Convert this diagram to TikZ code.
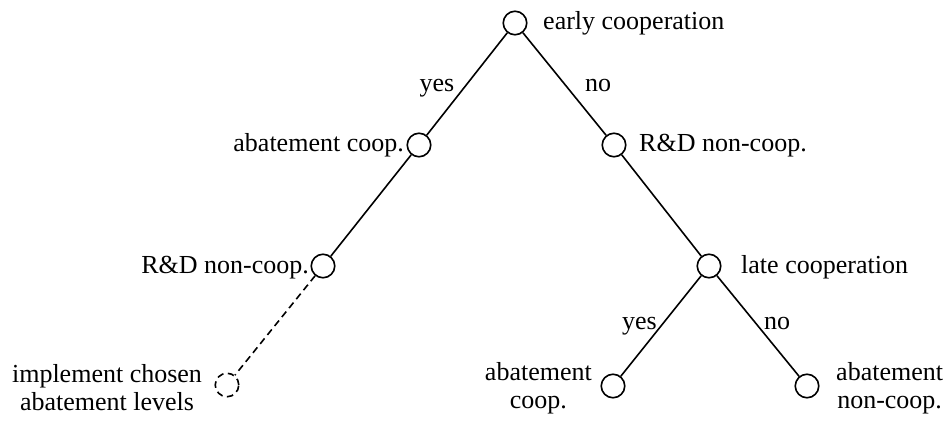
\documentclass[tikz,border=0pt]{standalone}
\usepackage{fontspec}
\setmainfont{Liberation Serif}
\begin{document}
\begin{tikzpicture}[x=1pt,y=-1pt,
  st/.style={circle,draw,line width=1.6pt,minimum size=23.5pt,inner sep=0pt},
  dst/.style={st,dash pattern=on 6.5pt off 4.5pt},
  lab/.style={inner sep=0pt,font=\fontsize{26}{28}\selectfont},
  edge/.style={line width=1.6pt},
  dedge/.style={edge,dash pattern=on 7pt off 4.5pt}]
\useasboundingbox (0,0) rectangle (950,422);
% states
\node[st] (r) at (515,23) {};
\node[st] (a) at (419,145) {};
\node[st] (b) at (614,145) {};
\node[st] (c) at (323,266) {};
\node[st] (d) at (709,266) {};
\node[dst] (e) at (227,385) {};
\node[st] (f) at (613,386) {};
\node[st] (g) at (807,386) {};
% connectors
\draw[edge] (r) -- (a);
\draw[edge] (r) -- (b);
\draw[edge] (a) -- (c);
\draw[dedge] (c) -- (e);
\draw[edge] (b) -- (d);
\draw[edge] (d) -- (f);
\draw[edge] (d) -- (g);
% state labels
\node[lab,anchor=base west] (tr) at (543,30) {early cooperation};
\node[lab,anchor=base east] (ta) at (404,152) {abatement coop.};
\node[lab,anchor=base west] (tb) at (639,152) {R\&D non-coop.};
\node[lab,anchor=base east] (tc) at (309,273) {R\&D non-coop.};
\node[lab,anchor=base west] (td) at (741,273) {late cooperation};
\node[lab,align=center,anchor=center] (te) at (107,388) {implement chosen\\abatement levels};
\node[lab,align=center,anchor=east] (tf) at (592,388) {abatement\\coop.};
\node[lab,align=center,anchor=west] (tg) at (836,388) {abatement\\non-coop.};
% edge labels
\node[lab,anchor=base] (y1) at (437,92) {yes};
\node[lab,anchor=base] (n1) at (598,92) {no};
\node[lab,anchor=base east] (y2) at (657,329) {yes};
\node[lab,anchor=base west] (n2) at (764,329) {no};
\end{tikzpicture}
\end{document}
